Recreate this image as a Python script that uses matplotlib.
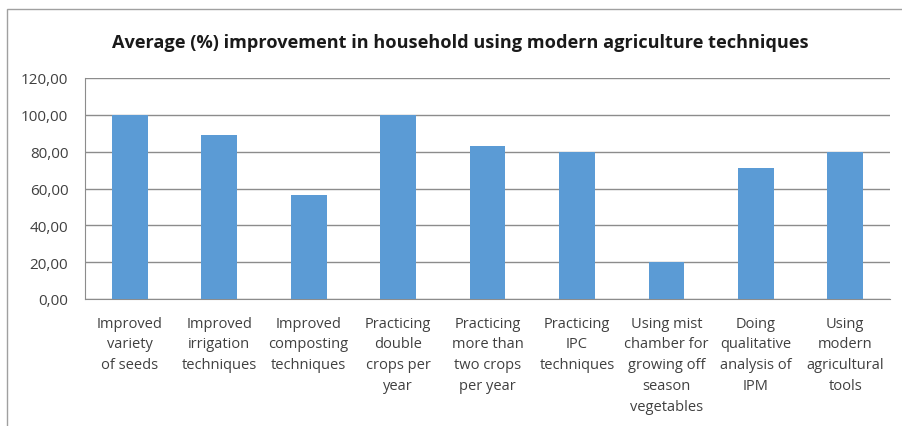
"""Average (%) improvement in household using modern agriculture techniques."""

import matplotlib
matplotlib.use("Agg")
import matplotlib.pyplot as plt
from matplotlib.patches import Rectangle

CATEGORIES = [
    "Improved\nvariety\nof seeds",
    "Improved\nirrigation\ntechniques",
    "Improved\ncomposting\ntechniques",
    "Practicing\ndouble\ncrops per\nyear",
    "Practicing\nmore than\ntwo crops\nper year",
    "Practicing\nIPC\ntechniques",
    "Using mist\nchamber for\ngrowing off\nseason\nvegetables",
    "Doing\nqualitative\nanalysis of\nIPM",
    "Using\nmodern\nagricultural\ntools",
]
VALUES = [100.0, 89.2, 56.6, 100.0, 83.0, 80.0, 20.0, 71.0, 80.0]
Y_TICKS = [0, 20, 40, 60, 80, 100, 120]

BAR_COLOR = "#5B9BD5"
GRID_COLOR = "#8C8C8C"
TEXT_COLOR = "#404040"

plt.rcParams["font.family"] = ["Open Sans", "DejaVu Sans"]

fig = plt.figure(figsize=(9.02, 4.27), dpi=100)
fig.patches.append(Rectangle((7 / 902, -0.1), 1.2, 1 - 10 / 427 + 0.1,
                             transform=fig.transFigure, fill=False,
                             edgecolor="#A0A0A0", linewidth=1.0))

ax = fig.add_axes([85 / 902, 1 - 300 / 427, (890 - 85) / 902, (300 - 79) / 427])
x = range(len(CATEGORIES))
ax.bar(x, VALUES, width=0.4, color=BAR_COLOR, zorder=3)

ax.set_xlim(-0.5, len(CATEGORIES) - 0.5)
ax.set_ylim(0, 120)
ax.set_yticks(Y_TICKS)
ax.set_yticklabels([f"{v:.2f}".replace(".", ",") for v in Y_TICKS])
ax.set_xticks(list(x))
ax.set_xticklabels(CATEGORIES, linespacing=1.52)

ax.grid(axis="y", color=GRID_COLOR, linewidth=1.0, zorder=0)
for side in ["top", "right"]:
    ax.spines[side].set_visible(False)
for side in ["left", "bottom"]:
    ax.spines[side].set_color(GRID_COLOR)
ax.tick_params(axis="both", length=0, labelsize=10.5, colors=TEXT_COLOR)
ax.tick_params(axis="y", labelsize=11, pad=12)
ax.tick_params(axis="x", pad=12)

fig.text(460 / 902, 1 - 43 / 427,
         "Average (%) improvement in household using modern agriculture techniques",
         ha="center", va="center", fontsize=13.1, fontweight="bold", color="#1A1A1A")

fig.savefig("out.png", dpi=100)
